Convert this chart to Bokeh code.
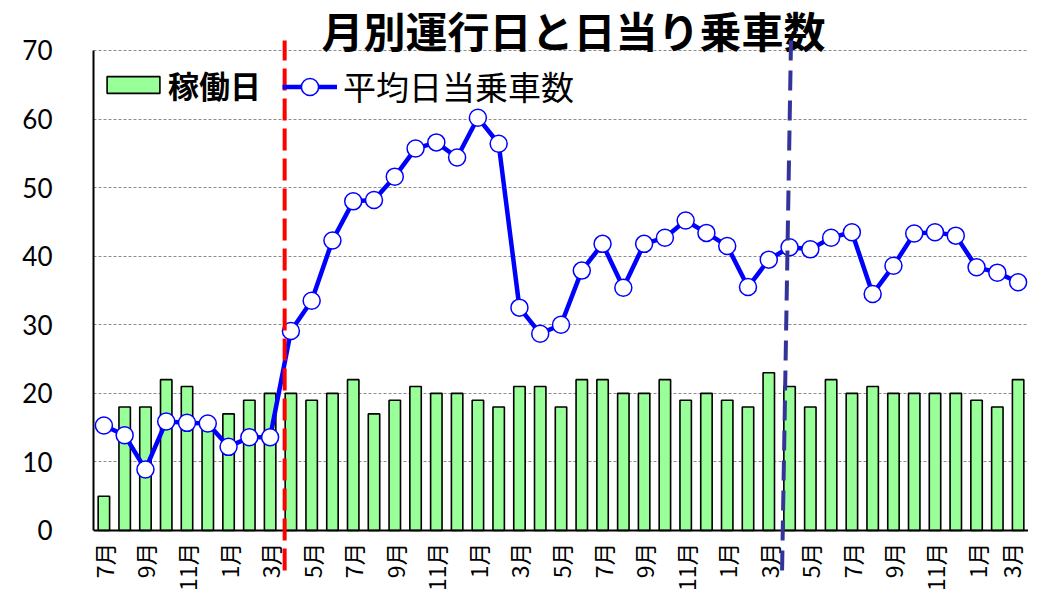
import math
from bokeh.plotting import figure
from bokeh.models import Range1d, FixedTicker, Legend, LegendItem, Label
from bokeh.embed import file_html
from bokeh.resources import INLINE

# ---- data ----
month_labels = ["7月", "8月", "9月", "10月", "11月", "12月", "1月", "2月", "3月",
                "4月", "5月", "6月", "7月", "8月", "9月", "10月", "11月", "12月",
                "1月", "2月", "3月", "4月", "5月", "6月", "7月", "8月", "9月",
                "10月", "11月", "12月", "1月", "2月", "3月", "4月", "5月", "6月",
                "7月", "8月", "9月", "10月", "11月", "12月", "1月", "2月", "3月"]
operating_days = [5, 18, 18, 22, 21, 16, 17, 19, 20,
                  20, 19, 20, 22, 17, 19, 21, 20, 20,
                  19, 18, 21, 21, 18, 22, 22, 20, 20,
                  22, 19, 20, 19, 18, 23, 21, 18, 22,
                  20, 21, 20, 20, 20, 20, 19, 18, 22]
avg_daily_riders = [15.3, 13.9, 8.9, 15.9, 15.7, 15.6, 12.2, 13.6, 13.6,
                    29.1, 33.5, 42.3, 48.0, 48.2, 51.6, 55.7, 56.6, 54.4,
                    60.2, 56.4, 32.5, 28.7, 30.0, 37.9, 41.8, 35.4, 41.8,
                    42.7, 45.2, 43.4, 41.5, 35.5, 39.5, 41.3, 41.0, 42.7,
                    43.5, 34.5, 38.6, 43.3, 43.5, 43.0, 38.4, 37.6, 36.2]
y_ticks = [0, 10, 20, 30, 40, 50, 60, 70]
title_text = "月別運行日と日当り乗車数"
bar_label = "稼働日"
line_label = "平均日当乗車数"

idx = list(range(len(month_labels)))
shown_ticks = idx[::2]

# ---- figure ----
Y_LO, Y_HI = -9.48, 77.29          # visible window (frame spans the whole canvas height)
DIV_LO, DIV_HI = -5.83, 71.46      # extent of the dashed period dividers
p = figure(width=1028, height=595,
           x_range=Range1d(-0.5, len(idx) - 0.5),
           y_range=Range1d(Y_LO, Y_HI),
           output_backend="svg", toolbar_location=None,
           min_border_left=93, min_border_right=0,
           min_border_top=0, min_border_bottom=0)
p.outline_line_color = None
p.background_fill_color = "white"
p.border_fill_color = "white"

p.xgrid.visible = False
p.ygrid.ticker = FixedTicker(ticks=y_ticks[1:])
p.ygrid.grid_line_color = "#8c8c8c"
p.ygrid.grid_line_dash = "3 2"
p.ygrid.grid_line_width = 1

ya = p.yaxis[0]
ya.ticker = FixedTicker(ticks=y_ticks)
ya.bounds = (0, 70)
ya.axis_line_color = "black"
ya.axis_line_width = 2
ya.major_tick_line_color = None
ya.minor_tick_line_color = None
ya.major_label_standoff = 35
ya.major_label_text_font = "Lato"
ya.major_label_text_font_size = "26px"
ya.major_label_text_color = "black"

xa = p.xaxis[0]
xa.fixed_location = 0
xa.ticker = FixedTicker(ticks=shown_ticks)
xa.major_label_overrides = {i: month_labels[i] for i in shown_ticks}
xa.major_label_orientation = math.pi / 2
xa.axis_line_color = "black"
xa.axis_line_width = 2
xa.major_tick_line_color = None
xa.minor_tick_line_color = None
xa.major_label_standoff = 6
xa.major_label_text_font = "Noto Sans CJK JP"
xa.major_label_text_font_size = "23px"
xa.major_label_text_color = "black"

bars = p.vbar(x=idx, top=operating_days, width=0.55,
              fill_color="#99FF99", line_color="black", line_width=1.6)
ln = p.line(idx, avg_daily_riders, line_color="#0000FF", line_width=4.5)
pts = p.scatter(idx, avg_daily_riders, size=17, marker="circle",
                fill_color="white", line_color="#0000FF", line_width=1.5)

RED_X = 8.7
BLUE_X_TOP, BLUE_X_BOT = 33.07, 32.64
p.segment(x0=[RED_X], y0=[DIV_LO], x1=[RED_X], y1=[DIV_HI], line_color="#FF0000",
          line_width=4, line_dash="22 8", level="overlay")
p.segment(x0=[BLUE_X_BOT], y0=[DIV_LO], x1=[BLUE_X_TOP], y1=[DIV_HI], line_color="#333399",
          line_width=4, line_dash="20 10", level="overlay")

leg1 = Legend(items=[LegendItem(label=bar_label, renderers=[bars])],
              location=(7, 488), orientation="horizontal",
              border_line_color=None, background_fill_alpha=0,
              padding=0, margin=0, glyph_width=66, glyph_height=21,
              label_standoff=2, label_text_font="Noto Sans CJK JP",
              label_text_font_style="bold", label_text_font_size="31px",
              label_text_color="black")
leg2 = Legend(items=[LegendItem(label=line_label, renderers=[ln, pts])],
              location=(189, 485), orientation="horizontal",
              border_line_color=None, background_fill_alpha=0,
              padding=0, margin=0, glyph_width=55, glyph_height=43,
              label_standoff=6, label_text_font="Noto Sans CJK JP",
              label_text_font_style="normal", label_text_font_size="33px",
              label_text_color="black")
p.add_layout(leg1)
p.add_layout(leg2)

p.add_layout(Label(x=22.6, y=73.0, text=title_text, text_align="center",
                   text_baseline="middle", text_font="Noto Sans CJK JP",
                   text_font_style="bold", text_font_size="42px", text_color="black"))

open("out.html", "w").write(file_html(p, INLINE))
